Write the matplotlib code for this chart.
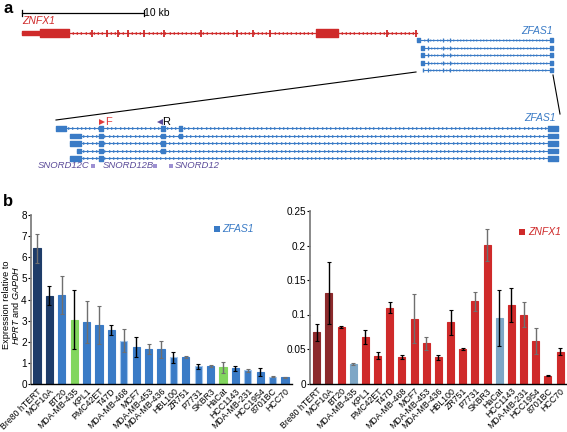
import matplotlib.pyplot as plt
import matplotlib
import numpy as np

matplotlib.rcParams['font.family'] = ['Liberation Sans', 'DejaVu Sans']
matplotlib.rcParams['mathtext.fontset'] = 'custom'
matplotlib.rcParams['mathtext.it'] = 'Liberation Sans:italic'
matplotlib.rcParams['mathtext.rm'] = 'Liberation Sans'

# ---- panel b data ----
cell_lines = ['Bre80 hTERT', 'MCF10A', 'BT20', 'MDA-MB-435', 'KPL1', 'PMC42ET', 'T47D',
              'MDA-MB-468', 'MCF7', 'MDA-MB-453', 'MDA-MB-436', 'HBL100', 'ZR751', 'P7731',
              'SKBR3', 'HaCat', 'HCC1143', 'MDA-MB-231', 'HCC1954', '8701BC', 'HCC70']
zfas1 = [6.42, 4.17, 4.2, 3.05, 2.92, 2.8, 2.56, 2.05, 1.75, 1.65, 1.65, 1.26, 1.27,
         0.85, 0.85, 0.8, 0.75, 0.64, 0.56, 0.35, 0.32]
zfas1_err = [0.7, 0.45, 0.9, 1.4, 1.0, 0.9, 0.22, 0.55, 0.48, 0.22, 0.4, 0.27, 0.04,
             0.12, 0.06, 0.26, 0.12, 0.09, 0.19, 0.02, 0.02]
znfx1 = [0.074, 0.131, 0.082, 0.028, 0.067, 0.040, 0.110, 0.039, 0.094, 0.058, 0.038,
         0.089, 0.0505, 0.119, 0.201, 0.095, 0.114, 0.100, 0.062, 0.0113, 0.046]
znfx1_err = [0.012, 0.045, 0.002, 0.001, 0.010, 0.005, 0.008, 0.003, 0.036, 0.009, 0.004,
             0.018, 0.0015, 0.014, 0.023, 0.041, 0.025, 0.018, 0.019, 0.001, 0.005]

# ---- panel a data (diagram units) ----
znfx1_utr = (22, 40)
znfx1_big_exons = [(40, 69), (316, 338)]
znfx1_small_exons = [92, 107, 118, 128, 144, 164, 201, 237, 253, 270, 387, 416]
zfas1_top_rows = [40, 47.7, 55, 62.7, 70]
zfas1_top_starts = [416.5, 420.5, 420.5, 420.5, 422.5]
zfas1_top_small = [428, 443, 450]
zfas1_rows = [128.3, 135.7, 143.3, 150.7, 158.3]
zfas1_first_exons = [(56, 66), (70, 81), (70, 81), (77, 81), (70, 81)]
zfas1_mid_exons = [[(98.5, 102.5), (160.5, 165), (179.3, 181.7)],
                   [(98.5, 102.5), (160.5, 165), (179.3, 181.7)],
                   [(98.5, 102.5), (160.5, 165)],
                   [(98.5, 102.5), (160.5, 165)],
                   [(98.5, 102.5)]]
zfas1_last_exon = (548, 558)
snord_labels = ['SNORD12C', 'SNORD12B', 'SNORD12']
snord_pos = [92.7, 154.5, 171]

red = '#cf2a2a'
blue = '#3a7bc6'
purple = '#5b4b99'

fig = plt.figure(figsize=(5.67, 4.32), dpi=100)
ax0 = fig.add_axes([0, 0, 1, 1])
ax0.set_xlim(0, 567)
ax0.set_ylim(432, 0)
ax0.axis('off')

fig.text(3 / 567, 1 - 1 / 432, 'a', fontsize=12, fontweight='bold', va='top')
fig.text(3 / 567, 1 - 194 / 432, 'b', fontsize=12, fontweight='bold', va='top')

# scale bar
ax0.plot([21.5, 143.5], [13.3, 13.3], color='black', lw=0.9)
ax0.plot([21.5, 21.5], [10.3, 16.3], color='black', lw=0.9)
ax0.plot([143.5, 143.5], [10.3, 16.3], color='black', lw=0.9)
ax0.text(144.5, 12.8, '10 kb', fontsize=7.5, va='center', ha='left')

# ZNFX1 gene
ax0.text(22, 21.5, 'ZNFX1', color=red, fontsize=7.5, style='italic', va='center')
ax0.plot([22, 417], [33, 33], color=red, lw=0.9)
chev = np.arange(72, 415, 4.2)
ax0.plot(chev, np.full(len(chev), 33), ls='none', marker='<', ms=2.2, color=red, mew=0)
ax0.broken_barh([(znfx1_utr[0], znfx1_utr[1] - znfx1_utr[0])], (31, 4), color=red)
ax0.broken_barh([(a, b - a) for a, b in znfx1_big_exons], (29, 8), color=red)
ax0.vlines(znfx1_small_exons, 29.5, 36.5, color=red, lw=1.3)

# ZFAS1 top (overview)
ax0.text(553, 31.5, 'ZFAS1', color=blue, fontsize=7.5, style='italic', va='center', ha='right')
for i, y in enumerate(zfas1_top_rows):
    s = zfas1_top_starts[i]
    ax0.plot([s, 553], [y, y], color=blue, lw=0.8)
    c = np.arange(s + 8, 548, 3.3)
    ax0.plot(c, np.full(len(c), y), ls='none', marker='>', ms=1.8, color=blue, mew=0)
    if i < 4:
        ax0.broken_barh([(s, 3)], (y - 2, 4), color=blue)
    else:
        ax0.vlines(s, y - 2, y + 2, color=blue, lw=1)
    ax0.vlines(zfas1_top_small, y - 2, y + 2, color=blue, lw=0.9)
    ax0.broken_barh([(549.5, 3.5)], (y - 2, 4), color=blue)

# zoom lines
ax0.plot([416, 56], [72, 120], color='black', lw=0.8)
ax0.plot([553, 560], [75, 114], color='black', lw=0.8)

# ZFAS1 zoomed
ax0.text(556, 118, 'ZFAS1', color=blue, fontsize=7.5, style='italic', va='center', ha='right')
for i, y in enumerate(zfas1_rows):
    a, b = zfas1_first_exons[i]
    ax0.plot([a, zfas1_last_exon[1]], [y, y], color=blue, lw=0.8)
    c = np.arange(b + 3, zfas1_last_exon[0], 4.3)
    ax0.plot(c, np.full(len(c), y), ls='none', marker='>', ms=2.2, color=blue, mew=0)
    ax0.broken_barh([(a, b - a)], (y - 2.2, 4.4), color=blue)
    ax0.broken_barh([(p, q - p) for p, q in zfas1_mid_exons[i]], (y - 2.2, 4.4), color=blue)
    ax0.broken_barh([(zfas1_last_exon[0], zfas1_last_exon[1] - zfas1_last_exon[0])],
                    (y - 2.2, 4.4), color=blue)

# primers
ax0.plot([101.5], [121.7], marker='>', ms=5, color='#e03a3a', mew=0)
ax0.text(105.5, 121.7, 'F', color='#e03a3a', fontsize=8, va='center', ha='left')
ax0.plot([159.5], [121.7], marker='<', ms=5, color=purple, mew=0)
ax0.text(162.5, 121.7, 'R', color='black', fontsize=8, va='center', ha='left')

# snoRNAs
ax0.scatter(snord_pos, [165.7] * 3, marker='s', s=7, color='#9d90d2', lw=0)
ax0.text(38, 165.7, snord_labels[0], color=purple, fontsize=6.8, style='italic', va='center')
ax0.text(103, 165.7, snord_labels[1], color=purple, fontsize=6.8, style='italic', va='center')
ax0.text(175, 165.7, snord_labels[2], color=purple, fontsize=6.8, style='italic', va='center')

# ---- panel b ----
x = np.arange(len(cell_lines))

left_colors = ['#1e3c69', '#1e3c69', blue, '#82d65e', blue, blue, blue, blue, blue, blue, blue,
               blue, blue, blue, blue, '#82d65e', blue, blue, blue, blue, blue]
left_edges = [c if i not in (7, 11, 13, 17, 19) else '#a3c6ec' for i, c in enumerate(left_colors)]
left_ecol = ['#6f6f6f', 'black', '#6f6f6f', 'black', '#6f6f6f', '#6f6f6f', 'black', '#6f6f6f',
             'black', '#6f6f6f', '#6f6f6f', 'black', '#6f6f6f', 'black', '#6f6f6f', '#6f6f6f',
             'black', '#6f6f6f', 'black', '#6f6f6f', '#6f6f6f']
right_colors = ['#8c2a2c', '#8c2a2c', red, '#7ea7c6', red, red, red, red, red, red, red,
                red, red, red, red, '#7ea7c6', red, red, red, red, red]
right_ecol = ['black', 'black', 'black', '#6f6f6f', 'black', 'black', 'black', 'black',
              '#6f6f6f', '#6f6f6f', 'black', 'black', 'black', '#6f6f6f', '#6f6f6f', 'black',
              'black', '#6f6f6f', '#6f6f6f', 'black', 'black']

axL = fig.add_axes([31 / 567, 1 - 384 / 432, 261 / 567, 169 / 432])
axL.bar(x, zfas1, 0.58, color=left_colors, edgecolor=left_edges, lw=0.8)
for i in range(len(x)):
    axL.errorbar(x[i], zfas1[i], yerr=zfas1_err[i], color=left_ecol[i], capsize=1.3,
                 lw=1.0, capthick=0.8)
axL.set_xlim(-0.48, 20.56)
axL.set_ylim(0, 8)
axL.set_yticks(range(9))

axR = fig.add_axes([310 / 567, 1 - 383.5 / 432, 257 / 567, 172.5 / 432])
axR.bar(x, znfx1, 0.58, color=right_colors, edgecolor=right_colors, lw=0.8)
for i in range(len(x)):
    axR.errorbar(x[i], znfx1[i], yerr=znfx1_err[i], color=right_ecol[i], capsize=1.3,
                 lw=1.0, capthick=0.8)
axR.set_xlim(-0.55, 20.57)
axR.set_ylim(0, 0.25)
axR.set_yticks([0, 0.05, 0.1, 0.15, 0.2, 0.25])
axR.set_yticklabels(['0', '0.05', '0.1', '0.15', '0.2', '0.25'])

for ax in (axL, axR):
    ax.set_xticks(x)
    ax.set_xticklabels(cell_lines, rotation=45, ha='right', rotation_mode='anchor', fontsize=6.3)
    ax.spines['top'].set_visible(False)
    ax.spines['right'].set_visible(False)
    ax.spines['left'].set_color('#808080')
    ax.spines['left'].set_linewidth(1.3)
    ax.spines['bottom'].set_linewidth(1.0)
    ax.tick_params(axis='x', length=0, pad=2)
    ax.tick_params(axis='y', length=2, width=0.8, labelsize=7.2, pad=1)
    ax.patch.set_alpha(0)

# legends
ax0.scatter([216.5], [229.3], marker='s', s=24, color=blue, lw=0)
ax0.text(222, 229.3, 'ZFAS1', color=blue, fontsize=7.5, style='italic', va='center')
ax0.scatter([521.5], [231.7], marker='s', s=24, color=red, lw=0)
ax0.text(528, 231.7, 'ZNFX1', color=red, fontsize=7.5, style='italic', va='center')

# y label
fig.text(7 / 567, 1 - 305 / 432, 'Expression relative to', rotation=90, fontsize=6.6,
         ha='center', va='center')
fig.text(15.5 / 567, 1 - 305 / 432, r'$\it{HPRT}$ and $\it{GAPDH}$', rotation=90,
         fontsize=6.6, ha='center', va='center')

plt.savefig('out.png', dpi=100)
